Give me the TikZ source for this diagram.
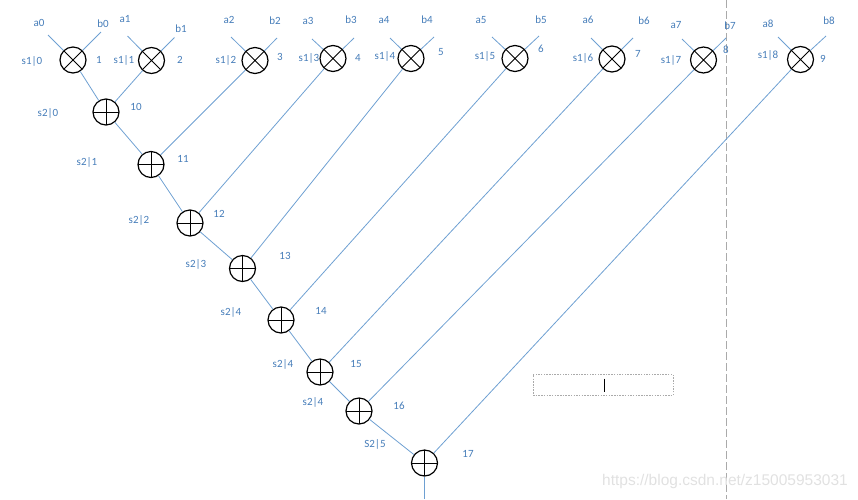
\documentclass[tikz,border=0pt]{standalone}
\usepackage{fontspec}
\setmainfont{Carlito}
\newfontfamily\wmfont{Liberation Sans}
\definecolor{wire}{RGB}{110,160,210}
\definecolor{lbl}{RGB}{70,125,185}
\definecolor{sepgray}{RGB}{170,170,170}
\definecolor{wm}{RGB}{225,225,225}
\tikzset{
  wireline/.style={draw=wire, line width=0.8pt},
  mult/.style={circle, draw=black, line width=1.2pt, minimum size=26pt, inner sep=0pt,
    path picture={\draw[line width=1pt] (path picture bounding box.north west) -- (path picture bounding box.south east)
      (path picture bounding box.north east) -- (path picture bounding box.south west);}},
  adder/.style={circle, draw=black, line width=1.2pt, minimum size=26pt, inner sep=0pt,
    path picture={\draw[line width=1pt] (path picture bounding box.north) -- (path picture bounding box.south)
      (path picture bounding box.east) -- (path picture bounding box.west);}},
  lab/.style={text=lbl, font=\fontsize{11}{13}\selectfont, inner sep=0pt},
}
\begin{document}
\begin{tikzpicture}[x=1pt,y=-1pt]
\useasboundingbox (0,0) rectangle (858,499);
% dashed separator
\coordinate (d1) at (726,0);
\coordinate (d2) at (726,499);
\draw[draw=sepgray, line width=1pt, dash pattern=on 8pt off 3pt] (d1) -- (d2);
% multipliers
\node[mult] (M1) at (73,60) {};
\node[mult] (M2) at (151.5,60.5) {};
\node[mult] (M3) at (255,60.5) {};
\node[mult] (M4) at (333,58.5) {};
\node[mult] (M5) at (411,58.5) {};
\node[mult] (M6) at (515,58.5) {};
\node[mult] (M7) at (612,59) {};
\node[mult] (M8) at (703.5,60) {};
\node[mult] (M9) at (800.5,59.5) {};
% adders
\node[adder] (A10) at (106,112) {};
\node[adder] (A11) at (151,164.5) {};
\node[adder] (A12) at (190,223) {};
\node[adder] (A13) at (242.5,268.5) {};
\node[adder] (A14) at (281,320) {};
\node[adder] (A15) at (320,372) {};
\node[adder] (A16) at (359,411) {};
\node[adder] (A17) at (424.5,463) {};
% input wire ends
\coordinate (a0s) at (48,35);   \coordinate (b0s) at (101,32);
\coordinate (a1s) at (127.5,36); \coordinate (b1s) at (174.5,37.5);
\coordinate (a2s) at (231,37);  \coordinate (b2s) at (277,38);
\coordinate (a3s) at (312,39);  \coordinate (b3s) at (354,38);
\coordinate (a4s) at (390,38);  \coordinate (b4s) at (434,37);
\coordinate (a5s) at (492,37);  \coordinate (b5s) at (539,36);
\coordinate (a6s) at (591,38);  \coordinate (b6s) at (633,38);
\coordinate (a7s) at (682,39);  \coordinate (b7s) at (726,38);
\coordinate (a8s) at (778,37);  \coordinate (b8s) at (826,36);
\foreach \i/\m in {0/M1,1/M2,2/M3,3/M4,4/M5,5/M6,6/M7,7/M8,8/M9}{
  \draw[wireline] (a\i s) -- (\m);
  \draw[wireline] (b\i s) -- (\m);
}
% tree wires
\draw[wireline] (M1) -- (A10);
\draw[wireline] (M2) -- (A10);
\draw[wireline] (A10) -- (A11);
\draw[wireline] (M3) -- (A11);
\draw[wireline] (A11) -- (A12);
\draw[wireline] (M4) -- (A12);
\draw[wireline] (A12) -- (A13);
\draw[wireline] (M5) -- (A13);
\draw[wireline] (A13) -- (A14);
\draw[wireline] (M6) -- (A14);
\draw[wireline] (A14) -- (A15);
\draw[wireline] (M7) -- (A15);
\draw[wireline] (A15) -- (A16);
\draw[wireline] (M8) -- (A16);
\draw[wireline] (A16) -- (A17);
\draw[wireline] (M9) -- (A17);
\coordinate (out) at (424.5,499);
\draw[wireline] (A17) -- (out);
% input labels
\node[lab] (la0) at (39,23) {a0};  \node[lab] (lb0) at (103,24) {b0};
\node[lab] (la1) at (125,19) {a1}; \node[lab] (lb1) at (181,29) {b1};
\node[lab] (la2) at (229,20) {a2}; \node[lab] (lb2) at (275,21) {b2};
\node[lab] (la3) at (308,21) {a3}; \node[lab] (lb3) at (351,20) {b3};
\node[lab] (la4) at (384,20) {a4}; \node[lab] (lb4) at (427,20) {b4};
\node[lab] (la5) at (481,20) {a5}; \node[lab] (lb5) at (541,20) {b5};
\node[lab] (la6) at (588,20) {a6}; \node[lab] (lb6) at (644,21) {b6};
\node[lab] (la7) at (676,25) {a7}; \node[lab] (lb7) at (730,26) {b7};
\node[lab] (la8) at (768,24) {a8}; \node[lab] (lb8) at (829,21) {b8};
% multiplier labels
\node[lab] (s10) at (32,61) {s1|0};  \node[lab] (n1) at (99,60) {1};
\node[lab] (s11) at (124,60) {s1|1}; \node[lab] (n2) at (180,60) {2};
\node[lab] (s12) at (226,60) {s1|2}; \node[lab] (n3) at (280,57) {3};
\node[lab] (s13) at (309,58) {s1|3}; \node[lab] (n4) at (358,58) {4};
\node[lab] (s14) at (385,56) {s1|4}; \node[lab] (n5) at (441,52) {5};
\node[lab] (s15) at (485,56) {s1|5}; \node[lab] (n6) at (541,49) {6};
\node[lab] (s16) at (583,58) {s1|6}; \node[lab] (n7) at (638,54) {7};
\node[lab] (s17) at (671,60) {s1|7}; \node[lab] (n8) at (726,50) {8};
\node[lab] (s18) at (768,55) {s1|8}; \node[lab] (n9) at (823,59) {9};
% adder labels
\node[lab] (s20) at (48,113) {s2|0};  \node[lab] (n10) at (136,107) {10};
\node[lab] (s21) at (87,162) {s2|1};  \node[lab] (n11) at (183,159) {11};
\node[lab] (s22) at (139,220) {s2|2}; \node[lab] (n12) at (219,214) {12};
\node[lab] (s23) at (196,264) {s2|3}; \node[lab] (n13) at (285,256) {13};
\node[lab] (s24) at (231,312) {s2|4}; \node[lab] (n14) at (321,311) {14};
\node[lab] (s25) at (283,364) {s2|4}; \node[lab] (n15) at (356,364) {15};
\node[lab] (s26) at (313,402) {s2|4}; \node[lab] (n16) at (399,406) {16};
\node[lab] (s27) at (375,444) {S2|5}; \node[lab] (n17) at (468,454) {17};
% dashed text box with cursor
\node[draw=sepgray, line width=0.6pt, dash pattern=on 1.5pt off 1.2pt, minimum width=140pt, minimum height=21pt, inner sep=0pt] (tbox) at (603,385) {};
\coordinate (c1) at (604,378.5);
\coordinate (c2) at (604,391.5);
\draw[black, line width=0.9pt] (c1) -- (c2);
% watermark
\node[text=wm, font=\wmfont\fontsize{15.5}{17}\selectfont, inner sep=0pt] (wmark) at (725,481) {https://blog.csdn.net/z15005953031};
\end{tikzpicture}
\end{document}
